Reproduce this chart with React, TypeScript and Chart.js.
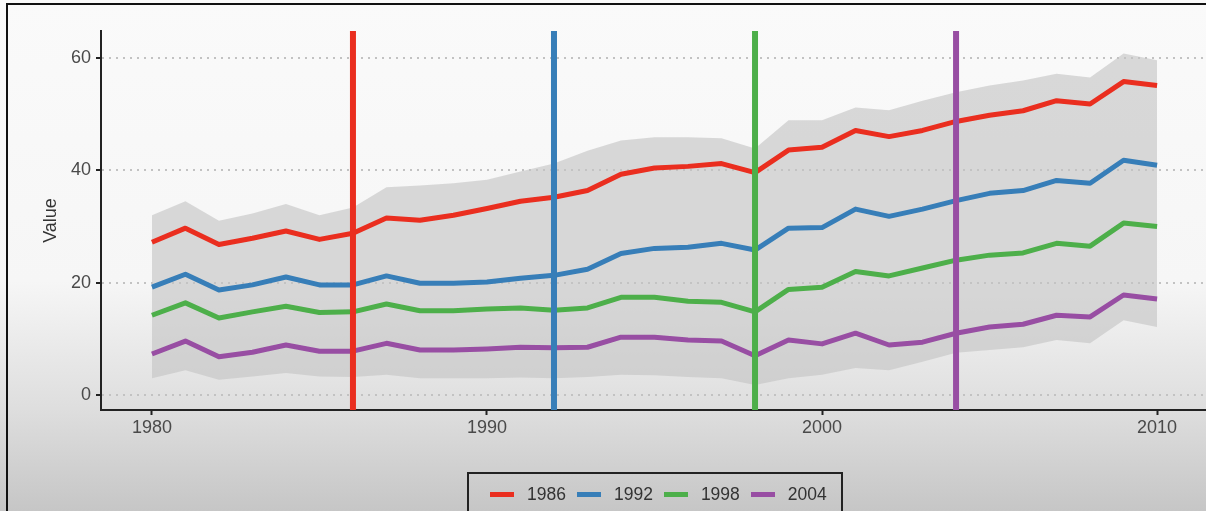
import React, { useEffect, useRef } from "react";
import { Chart, registerables } from "chart.js";

Chart.register(...registerables);

const years = [
  1980, 1981, 1982, 1983, 1984, 1985, 1986, 1987, 1988, 1989, 1990,
  1991, 1992, 1993, 1994, 1995, 1996, 1997, 1998, 1999, 2000,
  2001, 2002, 2003, 2004, 2005, 2006, 2007, 2008, 2009, 2010,
];

const s1986 = [
  27.2, 29.7, 26.8, 27.9, 29.2, 27.7, 28.8, 31.5, 31.1, 32.0, 33.2,
  34.5, 35.2, 36.4, 39.3, 40.4, 40.7, 41.2, 39.6, 43.6, 44.1,
  47.1, 46.0, 47.1, 48.7, 49.8, 50.6, 52.4, 51.8, 55.8, 55.1,
];
const s1992 = [
  19.2, 21.5, 18.7, 19.6, 21.0, 19.6, 19.6, 21.2, 19.9, 19.9, 20.1,
  20.8, 21.3, 22.4, 25.2, 26.1, 26.3, 27.0, 25.8, 29.7, 29.8,
  33.1, 31.8, 33.1, 34.6, 35.9, 36.4, 38.2, 37.7, 41.8, 40.9,
];
const s1998 = [
  14.2, 16.4, 13.7, 14.8, 15.8, 14.7, 14.8, 16.2, 15.0, 15.0, 15.3,
  15.5, 15.1, 15.5, 17.4, 17.4, 16.7, 16.5, 14.8, 18.8, 19.2,
  22.0, 21.2, 22.6, 24.0, 24.9, 25.3, 27.0, 26.5, 30.6, 30.0,
];
const s2004 = [
  7.3, 9.6, 6.8, 7.6, 8.9, 7.8, 7.8, 9.2, 8.0, 8.0, 8.2,
  8.5, 8.4, 8.5, 10.3, 10.3, 9.8, 9.6, 7.0, 9.8, 9.1,
  11.0, 8.9, 9.4, 11.0, 12.1, 12.6, 14.2, 13.9, 17.8, 17.1,
];

const bandUpper = [
  32.0, 34.5, 31.0, 32.3, 34.0, 32.0, 33.4, 37.0, 37.3, 37.7, 38.3,
  39.8, 41.2, 43.5, 45.3, 45.9, 45.9, 45.7, 43.9, 48.9, 48.9,
  51.2, 50.7, 52.4, 53.9, 55.1, 56.0, 57.2, 56.5, 60.8, 59.6,
];
const bandLower = [
  3.0, 4.4, 2.7, 3.3, 3.9, 3.3, 3.2, 3.6, 3.0, 3.0, 3.0,
  3.1, 3.0, 3.2, 3.6, 3.5, 3.2, 3.0, 1.8, 3.0, 3.6,
  4.8, 4.4, 5.9, 7.5, 8.0, 8.5, 9.8, 9.2, 13.3, 12.1,
];

const seriesLabels = ["1986", "1992", "1998", "2004"];
const markerYears = [1986, 1992, 1998, 2004];
const seriesColors = ["#ea2e1f", "#377eb8", "#4daf4a", "#984ea3"];
const xTicks = [1980, 1990, 2000, 2010];
const yTicks = [0, 20, 40, 60];

const X_MIN = 1978.48;
const X_MAX = 2011.46;
const Y_MIN = -2.67;
const Y_MAX = 64.8;

export default function App() {
  const canvasRef = useRef<HTMLCanvasElement | null>(null);

  useEffect(() => {
    const canvas = canvasRef.current;
    if (!canvas) return;
    const allSeries = [s1986, s1992, s1998, s2004];

    const toPts = (arr: number[]) => arr.map((v, i) => ({ x: years[i], y: v }));

    const datasets: any[] = [];
    markerYears.forEach((yr, i) => {
      datasets.push({
        label: "marker" + yr,
        data: [
          { x: yr, y: Y_MIN },
          { x: yr, y: Y_MAX },
        ],
        borderColor: seriesColors[i],
        borderWidth: 6,
        pointRadius: 0,
        fill: false,
        clip: 0,
        order: 0,
      });
    });
    allSeries.forEach((arr, i) => {
      datasets.push({
        label: seriesLabels[i],
        data: toPts(arr),
        borderColor: seriesColors[i],
        borderWidth: 5,
        pointRadius: 0,
        fill: false,
        tension: 0,
        borderJoinStyle: "round",
        order: 1,
      });
    });
    const upperIndex = datasets.length;
    datasets.push({
      label: "upper",
      data: toPts(bandUpper),
      borderWidth: 0,
      borderColor: "rgba(0,0,0,0)",
      pointRadius: 0,
      backgroundColor: "rgba(196,196,196,0.62)",
      fill: upperIndex + 1,
      order: 2,
    });
    datasets.push({
      label: "lower",
      data: toPts(bandLower),
      borderWidth: 0,
      borderColor: "rgba(0,0,0,0)",
      pointRadius: 0,
      fill: false,
      order: 2,
    });

    const tickFont = { family: "'Liberation Sans', Arial, sans-serif", size: 18 };

    const chart = new Chart(canvas, {
      type: "line",
      data: { datasets },
      options: {
        animation: false,
        responsive: false,
        parsing: false as any,
        layout: { padding: { left: 0, top: 31, right: 0, bottom: 71 } },
        plugins: {
          legend: { display: false },
          tooltip: { enabled: false },
        },
        scales: {
          x: {
            type: "linear",
            min: X_MIN,
            max: X_MAX,
            afterBuildTicks: (s: any) => {
              s.ticks = xTicks.map((v) => ({ value: v }));
            },
            afterFit: (s: any) => {
              s.height = 30;
            },
            grid: {
              drawOnChartArea: false,
              drawTicks: true,
              tickLength: 5,
              tickColor: "#222",
              tickWidth: 2,
            },
            border: { display: true, color: "#222", width: 2 },
            ticks: {
              font: tickFont,
              color: "#4a4a4a",
              padding: 2,
              maxRotation: 0,
              autoSkip: false,
              callback: (v: any) => String(v),
            },
          },
          y: {
            type: "linear",
            min: Y_MIN,
            max: Y_MAX,
            afterBuildTicks: (s: any) => {
              s.ticks = yTicks.map((v) => ({ value: v }));
            },
            afterFit: (s: any) => {
              s.width = 101;
            },
            grid: {
              color: "#c2c2c2",
              lineWidth: 2,
              drawTicks: true,
              tickLength: 5,
              tickColor: "#222",
              tickWidth: 2,
            },
            border: { display: true, color: "#222", width: 2, dash: [2, 5] },
            ticks: {
              font: tickFont,
              color: "#4a4a4a",
              padding: 5,
              autoSkip: false,
              callback: (v: any) => String(v),
            },
            title: {
              display: true,
              text: "Value",
              font: tickFont,
              color: "#333",
              padding: { top: 40, bottom: 0 },
            },
          },
        },
      },
    });
    return () => chart.destroy();
  }, []);

  return (
    <div
      style={{
        position: "fixed",
        left: 0,
        top: 0,
        width: 1206,
        height: 511,
        overflow: "hidden",
        background:
          "linear-gradient(to bottom, #fafafa 0%, #f6f6f6 55%, #dedede 80%, #c6c6c6 100%)",
        fontFamily: "'Liberation Sans', Arial, sans-serif",
      }}
    >
      <div
        style={{
          position: "absolute",
          left: 6,
          top: 3,
          width: 1230,
          height: 540,
          border: "2px solid #111",
          boxSizing: "border-box",
        }}
      />
      <canvas
        ref={canvasRef}
        width={1206}
        height={511}
        style={{ position: "absolute", left: 0, top: 0, width: 1206, height: 511 }}
      />
      <div
        style={{
          position: "absolute",
          left: 467,
          top: 472,
          width: 376,
          height: 60,
          border: "2px solid #222",
          boxSizing: "border-box",
          display: "flex",
          alignItems: "flex-start",
          paddingLeft: 21,
          paddingTop: 9,
        }}
      >
        {seriesLabels.map((lab, i) => (
          <div key={lab} style={{ display: "flex", alignItems: "center", marginRight: 11 }}>
            <div
              style={{
                width: 24,
                height: 5,
                background: seriesColors[i],
                marginRight: 13,
              }}
            />
            <span style={{ fontSize: 17.5, lineHeight: "22px", color: "#333" }}>{lab}</span>
          </div>
        ))}
      </div>
    </div>
  );
}
